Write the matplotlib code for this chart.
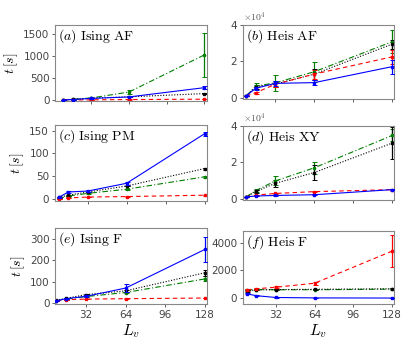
import matplotlib
matplotlib.use("Agg")
import matplotlib.pyplot as plt
import numpy as np

plt.rcParams['mathtext.fontset'] = 'cm'

L = [8, 16, 32, 64, 128]

panels = ["(a)", "(b)", "(c)", "(d)", "(e)", "(f)"]
titles = ["Ising AF", "Heis AF", "Ising PM", "Heis XY", "Ising F", "Heis F"]

# series per panel: blue (solid), red (dashed), green (dash-dot), black (dotted)
a_blue = [5, 15, 40, 73, 282];        a_blue_err = [2, 3, 8, 10, 40]
a_red = [2, 5, 8, 14, 22];            a_red_err = [1, 1, 2, 3, 4]
a_green = [3, 20, 50, 184, 1020];     a_green_err = [2, 5, 10, 40, 505]
a_black = [5, 18, 45, 75, 149];       a_black_err = [2, 3, 6, 8, 15]

b_blue = [1100, 5200, 7900, 8300, 17100];    b_blue_err = [200, 800, 1500, 1500, 3800]
b_red = [1000, 2800, 7400, 13000, 22500];    b_red_err = [200, 600, 1500, 2500, 4000]
b_green = [1000, 6400, 8200, 14300, 30800];  b_green_err = [200, 1500, 4300, 5500, 6400]
b_black = [1000, 6000, 7500, 13000, 29500];  b_black_err = [200, 1000, 1500, 3000, 2500]

c_blue = [4, 16, 18, 35, 143];       c_blue_err = [1, 2, 2, 3, 4]
c_red = [1, 3, 5, 6, 9];             c_red_err = [0.5, 0.5, 0.5, 0.5, 1]
c_green = [2, 7, 13, 22, 49];        c_green_err = [0.5, 1, 1, 1, 2]
c_black = [4, 9, 16, 29, 67];        c_black_err = [0.5, 1, 1, 1, 2]

d_blue = [1000, 1500, 1800, 2200, 5000];      d_blue_err = [100, 100, 200, 300, 400]
d_red = [1000, 2000, 2900, 3900, 5000];       d_red_err = [100, 200, 300, 400, 500]
d_green = [1000, 4500, 9800, 17000, 34800];   d_green_err = [200, 1000, 2500, 3200, 3300]
d_black = [1000, 4000, 8500, 14400, 30600];   d_black_err = [200, 800, 2000, 4000, 9000]

e_blue = [10, 20, 31, 70, 252];      e_blue_err = [2, 3, 4, 18, 60]
e_red = [10, 15, 18, 20, 23];        e_red_err = [1, 1, 1, 1, 2]
e_green = [10, 18, 30, 49, 113];     e_green_err = [2, 2, 3, 4, 12]
e_black = [12, 22, 39, 57, 142];     e_black_err = [2, 3, 4, 5, 15]

f_blue = [310, 180, 50, 20, 10];          f_blue_err = [30, 20, 10, 5, 5]
f_red = [600, 680, 790, 1080, 3400];      f_red_err = [50, 60, 80, 120, 1150]
f_green = [600, 620, 610, 610, 650];      f_green_err = [40, 40, 40, 40, 50]
f_black = [520, 600, 620, 640, 680];      f_black_err = [40, 40, 40, 40, 50]

data = [
    (a_blue, a_blue_err, a_red, a_red_err, a_green, a_green_err, a_black, a_black_err),
    (b_blue, b_blue_err, b_red, b_red_err, b_green, b_green_err, b_black, b_black_err),
    (c_blue, c_blue_err, c_red, c_red_err, c_green, c_green_err, c_black, c_black_err),
    (d_blue, d_blue_err, d_red, d_red_err, d_green, d_green_err, d_black, d_black_err),
    (e_blue, e_blue_err, e_red, e_red_err, e_green, e_green_err, e_black, e_black_err),
    (f_blue, f_blue_err, f_red, f_red_err, f_green, f_green_err, f_black, f_black_err),
]

W, H = 415, 346
boxes = [  # left, right, top, bottom in pixels
    (55, 207, 25, 101.5),
    (242.5, 394, 25, 99),
    (54.5, 207, 125, 200.7),
    (242.5, 394, 126, 200),
    (55, 207, 228, 304),
    (242.7, 394, 231, 304),
]
xlims = [(1, 130.5), (5, 129.5), (4.7, 130), (5, 129.5), (7, 129.5), (4.7, 129.5)]
ylims = [(-30, 1700), (-700, 40000), (-3, 162), (-700, 40000), (-5, 352), (-420, 4850)]
yticks = [[0, 500, 1000, 1500], [0, 20000, 40000], [0, 50, 100, 150],
          [0, 20000, 40000], [0, 100, 200, 300], [0, 2000, 4000]]

styles = [
    dict(color='#0000ff', ls='-', marker='s', ms=2),
    dict(color='#ff0000', ls=(0, (4, 3)), marker='s', ms=2),
    dict(color='#007f00', ls=(0, (5, 2, 1, 2)), marker='o', ms=1.6),
    dict(color='#000000', ls=(0, (1, 1.5)), marker='s', ms=2),
]

fig = plt.figure(figsize=(W / 100, H / 100), dpi=100)
for i, (box, d) in enumerate(zip(boxes, data)):
    l, r, t, b = box
    ax = fig.add_axes([l / W, (H - b) / H, (r - l) / W, (b - t) / H])
    order = [2, 3, 1, 0]
    for k in order:
        st = styles[k]
        ax.errorbar(L, d[2 * k], yerr=d[2 * k + 1], color=st['color'], ls=st['ls'],
                    marker=st['marker'], ms=st['ms'], lw=0.8, elinewidth=0.9,
                    capsize=1.8, capthick=0.7, zorder=3 if k == 0 else 2)
    ax.set_xlim(*xlims[i])
    ax.set_ylim(*ylims[i])
    ax.set_xticks([32, 64, 96, 128])
    ax.set_yticks(yticks[i])
    if i >= 4:
        ax.set_xticklabels(['32', '64', '96', '128'])
        ax.set_xlabel(r'$L_v$', fontsize=11.5, labelpad=2)
    else:
        ax.set_xticklabels([])
    if i in (1, 3):
        ax.set_yticklabels(['0', '2', '4'])
        ax.text(0.0, 1.01, r'$\times10^4$', transform=ax.transAxes, fontsize=7,
                color='#555555', ha='left', va='bottom')
    if i % 2 == 0:
        ax.set_ylabel(r'$t\,[s]$', fontsize=10, labelpad=2)
    ax.tick_params(labelsize=7.5, colors='#444444', length=2, width=0.6, pad=2)
    for sp in ax.spines.values():
        sp.set_color('#888888')
        sp.set_linewidth(0.8)
    ax.text(0.02, 0.97, r'$' + panels[i] + r'\ \mathrm{' + titles[i].replace(' ', r'\ ') + r'}$',
            transform=ax.transAxes, fontsize=10, ha='left', va='top', zorder=5)

fig.savefig('out.png', dpi=100)
